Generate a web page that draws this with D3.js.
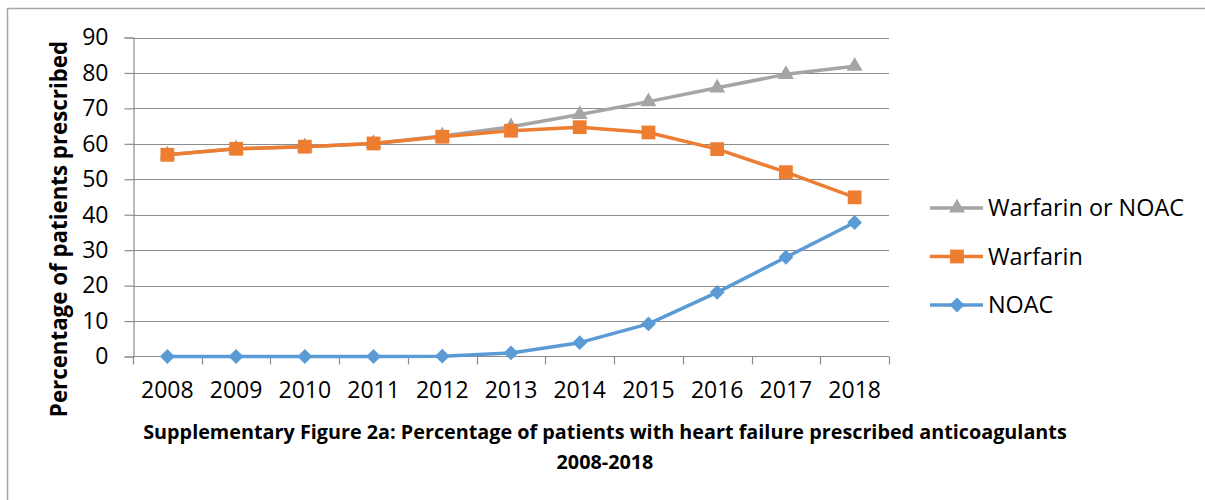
<!DOCTYPE html>
<html>
<head>
    <meta charset="utf-8">
    <title>Anticoagulants 2008-2018</title>
    <script src="https://d3js.org/d3.v7.min.js"></script>
    <style>
        body { margin: 0; background: #fff; }
        text { font-family: "Open Sans", sans-serif; fill: #000; }
    </style>
</head>
<body>
<div id="chart"></div>
<script type="text/javascript">
    // data
    const years = ['2008', '2009', '2010', '2011', '2012', '2013', '2014', '2015', '2016', '2017', '2018'];
    const warfarinOrNoac = [56.9, 58.6, 59.2, 60.1, 62.2, 64.8, 68.3, 71.9, 75.8, 79.6, 81.9];
    const warfarin = [56.9, 58.6, 59.2, 60.1, 62.0, 63.7, 64.7, 63.2, 58.5, 52.0, 44.9];
    const noac = [0, 0, 0, 0, 0.1, 1.0, 3.9, 9.2, 18.1, 28.0, 37.8];
    const yTicks = [0, 10, 20, 30, 40, 50, 60, 70, 80, 90];
    const seriesNames = ['Warfarin or NOAC', 'Warfarin', 'NOAC'];

    const width = 1205;
    const height = 500;

    const svg = d3.select('#chart').append('svg')
        .attr('width', width).attr('height', height);

    // outer frame (only left and top edges show in the picture)
    svg.append('rect')
        .attr('x', 7.5).attr('y', 8.5)
        .attr('width', 1210).attr('height', 510)
        .attr('fill', 'none').attr('stroke', '#a6a6a6').attr('stroke-width', 1.5);

    const x = d3.scaleBand().domain(years).range([133, 889]);
    const y = d3.scaleLinear().domain([0, 90]).range([356.5, 37.5]);

    const gridColor = '#8c8c8c';

    // gridlines
    svg.append('g').selectAll('line')
        .data(yTicks.filter(d => d > 0))
        .join('line')
        .attr('x1', 133).attr('x2', 889)
        .attr('y1', d => Math.round(y(d)) + 0.5).attr('y2', d => Math.round(y(d)) + 0.5)
        .attr('stroke', gridColor).attr('stroke-width', 1.2);

    // y axis
    const yAxis = svg.append('g')
        .attr('transform', 'translate(133.5,0)')
        .call(d3.axisLeft(y).tickValues(yTicks).tickSize(9).tickPadding(16));
    yAxis.select('.domain').attr('stroke', gridColor).attr('stroke-width', 1.2);
    yAxis.selectAll('.tick line').attr('stroke', gridColor).attr('stroke-width', 1.2);
    yAxis.selectAll('.tick text')
        .style('font-family', '"Open Sans", sans-serif').style('font-size', '23px').attr('fill', '#000');

    // x axis, ticks at band edges
    const xAxisG = svg.append('g').attr('transform', 'translate(0,356.5)');
    xAxisG.append('line')
        .attr('x1', 133).attr('x2', 889)
        .attr('stroke', gridColor).attr('stroke-width', 1.2);
    const edges = years.map(d => x(d)).concat([x.range()[1]]);
    xAxisG.selectAll('line.edge')
        .data(edges)
        .join('line').attr('class', 'edge')
        .attr('x1', d => Math.round(d) + 0.5).attr('x2', d => Math.round(d) + 0.5)
        .attr('y1', 0).attr('y2', 8)
        .attr('stroke', gridColor).attr('stroke-width', 1.2);
    xAxisG.selectAll('text')
        .data(years)
        .join('text')
        .attr('x', d => x(d) + x.bandwidth() / 2)
        .attr('y', 41)
        .attr('text-anchor', 'middle')
        .style('font-size', '23px')
        .text(d => d);

    const cx = d => x(d) + x.bandwidth() / 2;

    // diamond = square turned 45 degrees
    const series = [
        {name: seriesNames[0], values: warfarinOrNoac, color: '#a5a5a5', symbol: d3.symbolTriangle, size: 110, rot: 0},
        {name: seriesNames[1], values: warfarin, color: '#ed7d31', symbol: d3.symbolSquare, size: 190, rot: 0},
        {name: seriesNames[2], values: noac, color: '#5b9bd5', symbol: d3.symbolSquare, size: 110, rot: 45}
    ];

    const line = d3.line()
        .x((d, i) => cx(years[i]))
        .y(d => y(d));

    series.forEach(s => {
        const g = svg.append('g');
        g.append('path')
            .attr('d', line(s.values))
            .attr('fill', 'none')
            .attr('stroke', s.color)
            .attr('stroke-width', 3.5)
            .attr('stroke-linejoin', 'round');
        g.selectAll('path.marker')
            .data(s.values)
            .join('path').attr('class', 'marker')
            .attr('transform', (d, i) => `translate(${cx(years[i])},${y(d)}) rotate(${s.rot})`)
            .attr('d', d3.symbol().type(s.symbol).size(s.size))
            .attr('fill', s.color);
    });

    // legend
    const legend = svg.append('g');
    series.forEach((s, i) => {
        const ly = 208 + i * 48.5;
        legend.append('line')
            .attr('x1', 930).attr('x2', 983)
            .attr('y1', ly).attr('y2', ly)
            .attr('stroke', s.color).attr('stroke-width', 3.5);
        legend.append('path')
            .attr('transform', `translate(957,${ly}) rotate(${s.rot})`)
            .attr('d', d3.symbol().type(s.symbol).size(s.size))
            .attr('fill', s.color);
        legend.append('text')
            .attr('x', 988).attr('y', ly)
            .attr('dy', '0.35em')
            .style('font-size', '23.4px')
            .text(s.name);
    });

    // y axis title
    svg.append('text')
        .attr('transform', 'translate(67,229) rotate(-90)')
        .attr('text-anchor', 'middle')
        .style('font-size', '22.3px')
        .style('font-weight', 'bold')
        .text('Percentage of patients prescribed');

    // caption
    const caption = svg.append('g').attr('text-anchor', 'middle');
    caption.append('text')
        .attr('x', 605).attr('y', 439)
        .style('font-size', '19.8px').style('font-weight', 'bold')
        .text('Supplementary Figure 2a: Percentage of patients with heart failure prescribed anticoagulants');
    caption.append('text')
        .attr('x', 605).attr('y', 469)
        .style('font-size', '19.8px').style('font-weight', 'bold')
        .text('2008-2018');
</script>
</body>
</html>
